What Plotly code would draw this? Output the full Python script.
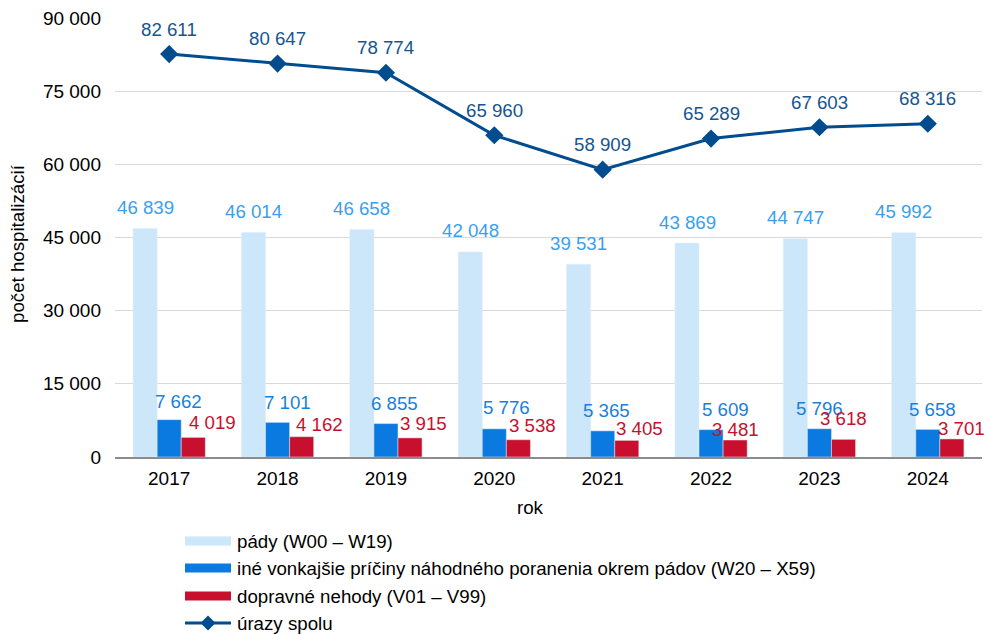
import plotly.graph_objects as go

years = ["2017", "2018", "2019", "2020", "2021", "2022", "2023", "2024"]
pady = [46839, 46014, 46658, 42048, 39531, 43869, 44747, 45992]
ine = [7662, 7101, 6855, 5776, 5365, 5609, 5796, 5658]
dopravne = [4019, 4162, 3915, 3538, 3405, 3481, 3618, 3701]
spolu = [82611, 80647, 78774, 65960, 58909, 65289, 67603, 68316]

y_ticks = [0, 15000, 30000, 45000, 60000, 75000, 90000]

names = [
    "pády (W00 – W19)",
    "iné vonkajšie príčiny náhodného poranenia okrem pádov (W20 – X59)",
    "dopravné nehody (V01 – V99)",
    "úrazy spolu",
]

# per-label nudges (pixels, relative to the group centre / bar top) so labels do not collide
ine_dx = [9, 10, 9, 12, 4, 14, 0, 5]
ine_dy = [18, 20, 20, 21, 20, 20, 20, 20]
dop_dx = [43, 42, 38, 38, 37, 24, 24, 34]
dop_dy = [15, 12, 14, 14, 12, 11, 21, 10]


def fmt(v):
    return f"{v:,}".replace(",", " ")


FONT = "Liberation Sans, Arial, sans-serif"
FS = 18.7
C_PADY, C_PADY_T = "#CCE6FA", "#3A9FEF"
C_INE, C_INE_T = "#0A7AE0", "#1B7FD9"
C_DOP = "#C8102E"
C_LINE, C_LINE_T = "#004C8F", "#17558F"

# plot-area geometry in pixels (used for the hand-drawn legend below the chart)
W, H = 987, 635
ML, MR, MT, MB = 115, 5, 18, 178
PW, PH = W - ML - MR, H - MT - MB


def px(x):
    return (x - ML) / PW


def py(y):
    return (H - MB - y) / PH


fig = go.Figure()
for vals, col, nm in [(pady, C_PADY, names[0]), (ine, C_INE, names[1]), (dopravne, C_DOP, names[2])]:
    fig.add_trace(go.Bar(x=years, y=vals, name=nm, marker_color=col))

fig.add_trace(go.Scatter(
    x=years, y=spolu, name=names[3], mode="lines+markers",
    line=dict(color=C_LINE, width=3),
    marker=dict(symbol="diamond", size=14, color=C_LINE),
))

annotations = []
for i, v in enumerate(spolu):
    annotations.append(dict(x=i, y=v, text=fmt(v), xref="x", yref="y", showarrow=False,
                            yshift=25, yanchor="middle",
                            font=dict(color=C_LINE_T, size=FS, family=FONT)))
for i, (a, b, c) in enumerate(zip(pady, ine, dopravne)):
    annotations.append(dict(x=i, y=a, text=fmt(a), xref="x", yref="y", showarrow=False,
                            xshift=-24, yshift=21, yanchor="middle",
                            font=dict(color=C_PADY_T, size=FS, family=FONT)))
    annotations.append(dict(x=i, y=b, text=fmt(b), xref="x", yref="y", showarrow=False,
                            xshift=ine_dx[i], yshift=ine_dy[i], yanchor="middle",
                            font=dict(color=C_INE_T, size=FS, family=FONT)))
    annotations.append(dict(x=i, y=c, text=fmt(c), xref="x", yref="y", showarrow=False,
                            xshift=dop_dx[i], yshift=dop_dy[i], yanchor="middle",
                            font=dict(color=C_DOP, size=FS, family=FONT)))

# axis titles
annotations.append(dict(x=px(530), y=py(507), xref="paper", yref="paper", text="rok",
                        yanchor="middle", showarrow=False, font=dict(size=FS, family=FONT)))
annotations.append(dict(x=px(18), y=py(244), xref="paper", yref="paper",
                        text="počet hospitalizácií", textangle=-90,
                        xanchor="center", yanchor="middle", showarrow=False,
                        font=dict(size=FS, family=FONT)))

# legend below the plot
shapes = []
rows = [541, 568, 596, 623]
sw0, sw1 = 185, 231
for row, col in zip(rows[:3], [C_PADY, C_INE, C_DOP]):
    shapes.append(dict(type="rect", xref="paper", yref="paper", layer="above",
                       x0=px(sw0), x1=px(sw1), y0=py(row + 4.5), y1=py(row - 4.5),
                       fillcolor=col, line=dict(width=0)))
shapes.append(dict(type="line", xref="paper", yref="paper", layer="above",
                   x0=px(sw0), x1=px(sw1), y0=py(rows[3]), y1=py(rows[3]),
                   line=dict(color=C_LINE, width=3)))
cx, cy, d = (sw0 + sw1) / 2, rows[3], 7.5
shapes.append(dict(type="path", xref="paper", yref="paper", layer="above",
                   path=(f"M {px(cx - d)} {py(cy)} L {px(cx)} {py(cy - d)} "
                         f"L {px(cx + d)} {py(cy)} L {px(cx)} {py(cy + d)} Z"),
                   fillcolor=C_LINE, line=dict(width=0)))
for row, nm in zip(rows, names):
    annotations.append(dict(x=px(235), y=py(row), xref="paper", yref="paper", text=nm,
                            xanchor="left", yanchor="middle", showarrow=False,
                            font=dict(size=FS, family=FONT, color="#000000")))

fig.update_layout(
    width=W, height=H,
    margin=dict(l=ML, r=MR, t=MT, b=MB),
    paper_bgcolor="white", plot_bgcolor="white",
    font=dict(family=FONT, size=FS, color="#000000"),
    barmode="group", bargap=1/3, bargroupgap=0,
    showlegend=False,
    annotations=annotations,
    shapes=shapes,
)
fig.update_xaxes(
    type="category", range=[-0.5, len(years) - 0.5],
    showline=True, linecolor="#8C8C8C", linewidth=1.5,
    ticks="", tickfont=dict(size=19), showgrid=False, ticklabelstandoff=3,
)
fig.update_yaxes(
    range=[0, 90000], tickvals=y_ticks, ticktext=[fmt(v) for v in y_ticks],
    tickfont=dict(size=19), showgrid=True, gridcolor="#D9D9D9", gridwidth=1,
    zeroline=False, showline=False, ticks="", ticklabelstandoff=13,
)

fig.write_html("out.html")
